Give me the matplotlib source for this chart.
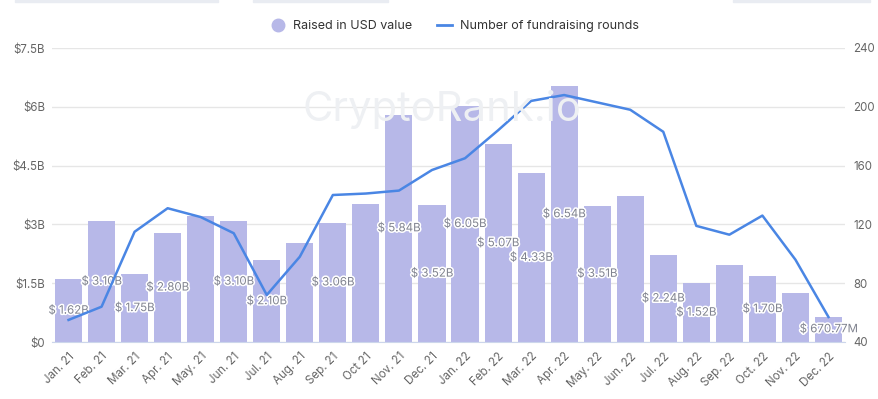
import matplotlib.pyplot as plt
import matplotlib.patheffects as pe
from matplotlib.lines import Line2D
from matplotlib.ticker import FixedLocator

plt.rcParams['font.family'] = ['Inter', 'DejaVu Sans']

months = ['Jan. 21', 'Feb. 21', 'Mar. 21', 'Apr. 21', 'May. 21', 'Jun. 21',
          'Jul. 21', 'Aug. 21', 'Sep. 21', 'Oct 21', 'Nov. 21', 'Dec. 21',
          'Jan. 22', 'Feb. 22', 'Mar. 22', 'Apr. 22', 'May. 22', 'Jun. 22',
          'Jul. 22', 'Aug. 22', 'Sep. 22', 'Oct. 22', 'Nov. 22', 'Dec. 22']
# raised, billions USD
raised = [1.60, 3.08, 1.73, 2.78, 3.22, 3.08, 2.08, 2.53, 3.04, 3.52, 5.80, 3.49,
          6.02, 5.04, 4.30, 6.52, 3.48, 3.72, 2.22, 1.50, 1.96, 1.68, 1.25, 0.65]
# which bars show a value label
labels = ['$ 1.62B', '$ 3.10B', '$ 1.75B', '$ 2.80B', None, '$ 3.10B',
          '$ 2.10B', None, '$ 3.06B', None, '$ 5.84B', '$ 3.52B',
          '$ 6.05B', '$ 5.07B', '$ 4.33B', '$ 6.54B', '$ 3.51B', None,
          '$ 2.24B', '$ 1.52B', None, '$ 1.70B', None, '$ 670.77M']
rounds = [55, 64, 115, 131, 125, 114, 72, 98, 140, 141, 143, 157,
          165, 184, 204, 208, 203, 198, 183, 119, 113, 126, 96, 57]

left_ticks = [0, 1.5, 3, 4.5, 6, 7.5]
left_ticklabels = ['$0', '$1.5B', '$3B', '$4.5B', '$6B', '$7.5B']
right_ticks = [40, 80, 120, 160, 200, 240]

bar_color = '#b7b8e8'
line_color = '#4a86e4'
grid_color = '#e6e6e6'
tick_color = '#666666'

fig = plt.figure(figsize=(8.79, 3.99), dpi=100)
ax = fig.add_axes([52 / 879, 1 - 342 / 399, 793 / 879, 294 / 399])
ax2 = ax.twinx()

x = list(range(len(months)))

# watermark behind everything
fig.text(0.503, 0.725, 'CryptoRank.io', fontsize=30, color='#eef0f3',
         ha='center', va='center', zorder=0)
ax.patch.set_alpha(0)
ax2.patch.set_alpha(0)

ax.bar(x, raised, width=0.82, color=bar_color, zorder=2)
for xi, v, lab in zip(x, raised, labels):
    if lab:
        ax.text(xi, v / 2, lab, ha='center', va='center', fontsize=8.3,
                color='#80838f', zorder=5,
                path_effects=[pe.withStroke(linewidth=2.2, foreground='white')])

ax2.plot(x, rounds, color=line_color, lw=1.8, zorder=3)

ax.set_xlim(-0.5, len(months) - 0.5)
ax.set_ylim(0, 7.5)
ax2.set_ylim(40, 240)
ax.yaxis.set_major_locator(FixedLocator(left_ticks))
ax.set_yticklabels(left_ticklabels)
ax2.yaxis.set_major_locator(FixedLocator(right_ticks))
ax.set_xticks(x)
ax.set_xticklabels(months, rotation=45, ha='right', rotation_mode='anchor')

ax.grid(axis='y', color=grid_color, lw=1, zorder=0)
ax.set_axisbelow(True)
for a in (ax, ax2):
    for s in a.spines.values():
        s.set_visible(False)
ax.spines['bottom'].set_visible(True)
ax.spines['bottom'].set_color('#ccd6eb')
ax.tick_params(axis='y', length=0, labelsize=8.3, labelcolor=tick_color, pad=5)
ax.tick_params(axis='x', length=0, labelsize=8.3, labelcolor=tick_color, pad=6)
ax2.tick_params(axis='y', length=0, labelsize=8.3, labelcolor=tick_color, pad=6)

handles = [Line2D([], [], marker='o', ls='none', markersize=9,
                  markerfacecolor=bar_color, markeredgecolor=bar_color),
           Line2D([], [], color=line_color, lw=2)]
fig.legend(handles, ['Raised in USD value', 'Number of fundraising rounds'],
           loc='center', bbox_to_anchor=(0.517, 1 - 26 / 399), ncol=2,
           frameon=False, fontsize=9, handlelength=1.2, handletextpad=0.6,
           columnspacing=2.0, labelcolor='#333333')

# cut-off UI strips at the very top
for x0, x1 in [(15, 218), (253, 388), (733, 870)]:
    fig.patches.append(plt.Rectangle((x0 / 879, 1 - 2 / 399), (x1 - x0) / 879, 2 / 399,
                                     transform=fig.transFigure, color='#e9ecf2'))

fig.savefig('out.png', dpi=100)
